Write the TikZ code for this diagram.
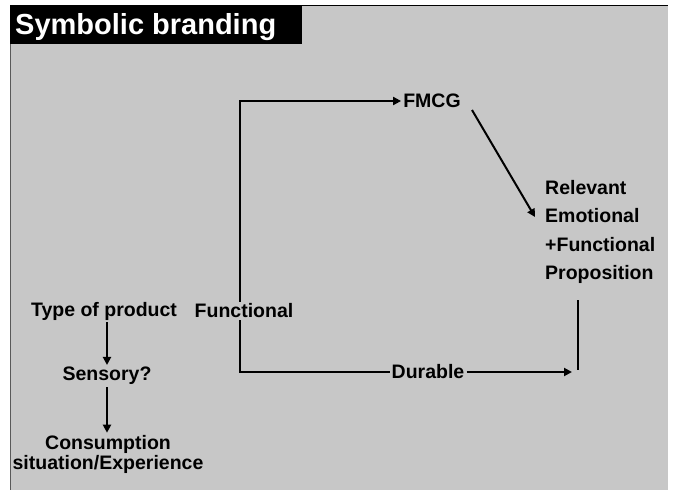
\documentclass[tikz,border=0pt]{standalone}
\usepackage{fontspec}
\setmainfont{Liberation Sans}
\usetikzlibrary{arrows.meta}
\definecolor{bg}{RGB}{199,199,199}
\tikzset{
  lbl/.style={font=\fontsize{19.5}{20}\selectfont\bfseries, inner sep=2pt, fill=bg},
  conn/.style={draw=black, line width=2pt},
  arr/.style={conn, -{Triangle[length=8pt,width=8pt]}},
}
\begin{document}
\begin{tikzpicture}[x=1pt,y=-1pt]
\useasboundingbox (0,0) rectangle (673,503);
\fill[white] (0,0) rectangle (673,503);
% panel
\fill[bg] (10,5) rectangle (668,490);
\draw[black, line width=1.5pt] (302,5.5) -- (668,5.5);
\draw[gray!70!black, line width=1pt] (10.5,43) -- (10.5,490);
% title bar
\fill[black] (10,5) rectangle (302,44);
\node[anchor=base west, inner sep=0, text=white, font=\fontsize{29}{29}\selectfont\bfseries] (title) at (15,35) {Symbolic branding};
% nodes
\node[lbl] (type) at (104,311) {Type of product};
\node[lbl] (func) at (244,311) {Functional};
\node[lbl] (sens) at (107,376) {Sensory?};
\node[lbl, align=center] (cons) at (108,454) {Consumption\\situation/Experience};
\node[lbl] (fmcg) at (432,101) {FMCG};
\node[lbl, align=left, anchor=north west, inner sep=0pt, font=\fontsize{19.5}{28.5}\selectfont\bfseries] (rel) at (545,180) {Relevant\\Emotional\\+Functional\\Proposition};
\node[lbl] (dur) at (428,372) {Durable};
% corners
\coordinate (c1) at (240,101);
\coordinate (c2) at (240,372);
\coordinate (c3) at (572,372);
\coordinate (c4) at (578,300);
\coordinate (c5) at (578,370);
\coordinate (tipR) at (535,217);
\coordinate (fm) at (472,110);
% connectors
\draw[arr] (c1 |- func.north) -- (c1) -- (fmcg.west);
\draw[conn] (c1 |- func.south) -- (c2) -- (dur.west);
\draw[arr] (dur.east) -- (c3);
\draw[conn] (c4) -- (c5);
\draw[arr] (fm) -- (tipR);
\draw[arr] (sens.north |- type.south) -- (sens.north);
\draw[arr] (sens.south) -- (sens.south |- cons.north);
\end{tikzpicture}
\end{document}
